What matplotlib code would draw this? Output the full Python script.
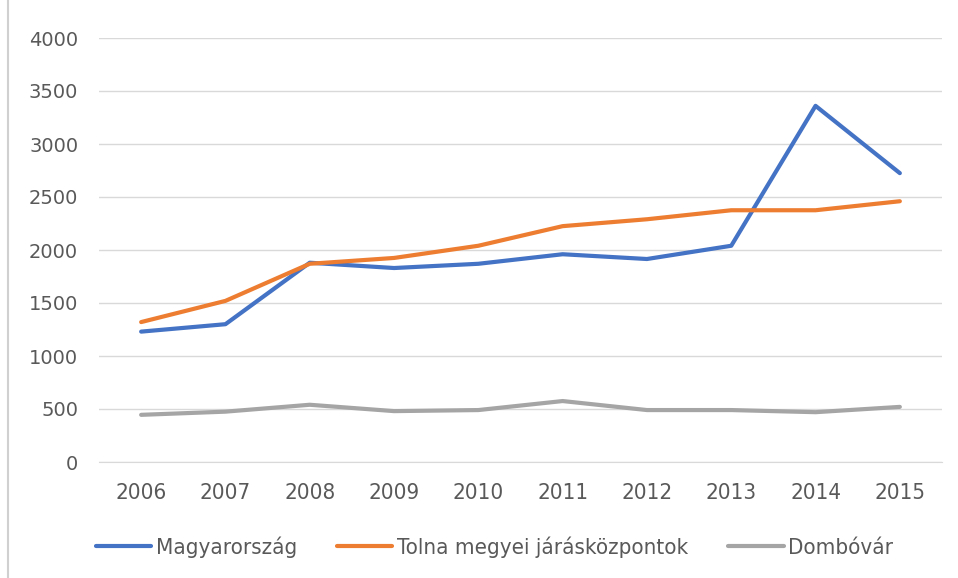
import matplotlib.pyplot as plt
from matplotlib.patches import Rectangle

plt.rcParams['font.family'] = ['DejaVu Sans']

years = ['2006', '2007', '2008', '2009', '2010', '2011', '2012', '2013', '2014', '2015']
magyarorszag = [1230, 1300, 1880, 1830, 1870, 1960, 1915, 2040, 3360, 2725]
tolna = [1320, 1520, 1870, 1925, 2040, 2225, 2290, 2375, 2375, 2460]
dombovar = [445, 475, 540, 480, 490, 575, 490, 490, 470, 520]

fig = plt.figure(figsize=(9.58, 5.78), dpi=100)
ax = fig.add_axes([99 / 958, 1 - 462 / 578, 843 / 958, 424 / 578])

x = range(len(years))
ax.plot(x, magyarorszag, color='#4472C4', lw=3, label='Magyarország', solid_capstyle='round')
ax.plot(x, tolna, color='#ED7D31', lw=3, label='Tolna megyei járásközpontok', solid_capstyle='round')
ax.plot(x, dombovar, color='#A5A5A5', lw=3, label='Dombóvár', solid_capstyle='round')

ax.set_xlim(-0.5, len(years) - 0.5)
ax.set_ylim(0, 4000)
ax.set_yticks(range(0, 4001, 500))
ax.set_xticks(list(x))
ax.set_xticklabels(years, fontstretch='condensed', fontsize=16)
ax.grid(axis='y', color='#D9D9D9', lw=1)
ax.set_axisbelow(True)
for s in ['top', 'right', 'left']:
    ax.spines[s].set_visible(False)
ax.spines['bottom'].set_color('#D9D9D9')
ax.tick_params(length=0, labelcolor='#595959')
ax.tick_params(axis='y', labelsize=14, pad=15)
ax.tick_params(axis='x', pad=15)

fig.legend(loc='center', bbox_to_anchor=(0.516, 1 - 547 / 578), ncol=3, frameon=False,
           prop={'size': 16, 'stretch': 'condensed'}, labelcolor='#595959',
           handlelength=2.5, handletextpad=0.2, columnspacing=1.8)

# keret a diagram körül
fig.patches.append(Rectangle((8 / 958, -0.01), 1.0, 1.02, transform=fig.transFigure,
                             fill=False, edgecolor='#D0D0D0', lw=1.5))

fig.savefig('out.png', dpi=100)
